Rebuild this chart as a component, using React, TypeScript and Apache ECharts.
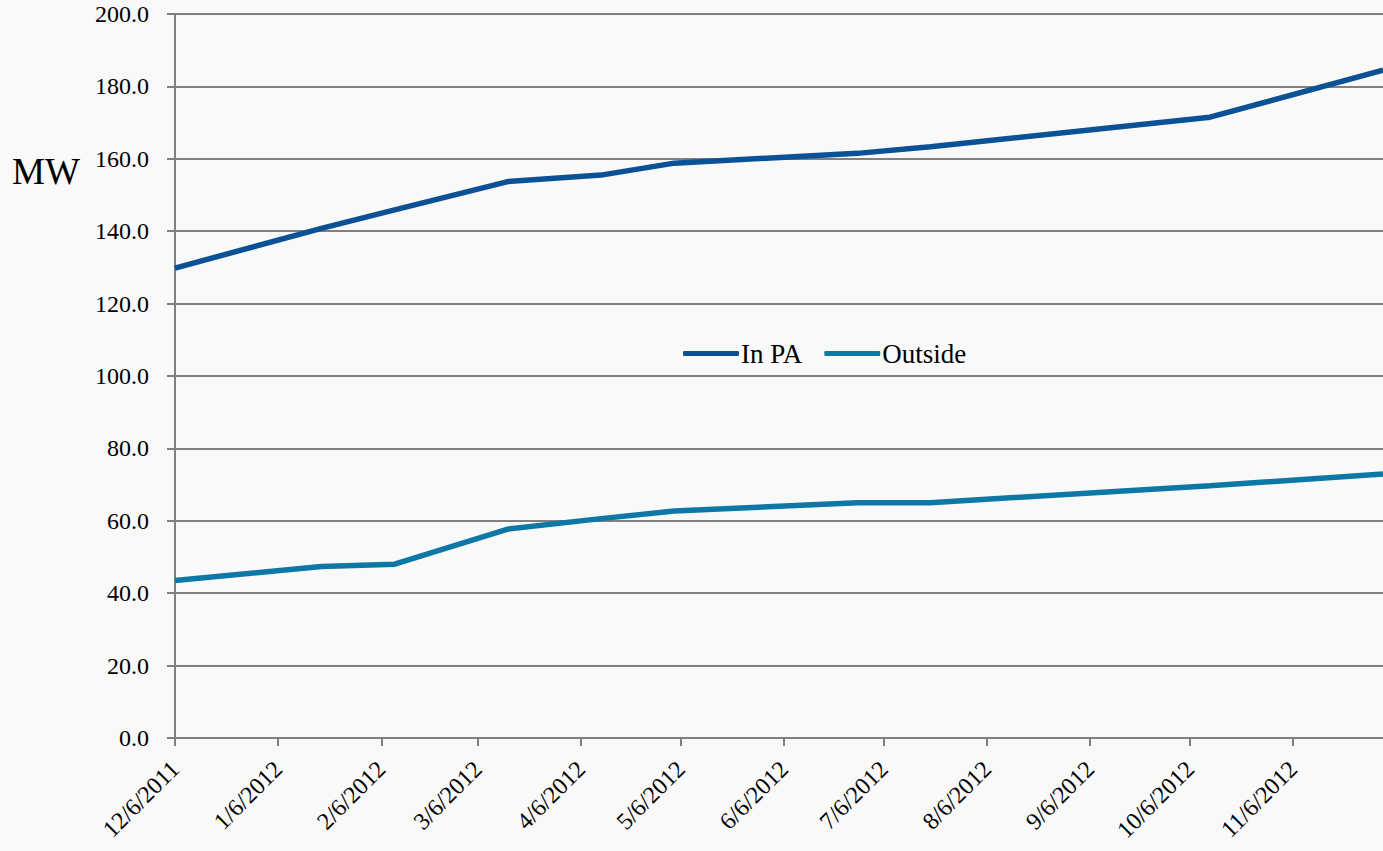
import React, { useEffect, useRef } from "react";
import * as echarts from "echarts";

const dates = ["2011-12-06", "2012-01-19", "2012-02-10", "2012-03-15", "2012-04-12", "2012-05-04", "2012-06-28", "2012-07-20", "2012-10-12", "2012-12-03"];
const inPA = [129.8, 140.8, 145.9, 153.7, 155.5, 158.8, 161.5, 163.3, 171.5, 184.5];
const outside = [43.5, 47.4, 48.0, 57.7, 60.6, 62.7, 65.0, 65.0, 69.7, 72.9];
const tickDates = ["2011-12-06", "2012-01-06", "2012-02-06", "2012-03-06", "2012-04-06", "2012-05-06", "2012-06-06", "2012-07-06", "2012-08-06", "2012-09-06", "2012-10-06", "2012-11-06"];

const toTs = (s: string) => {
  const [y, m, d] = s.split("-").map(Number);
  return new Date(y, m - 1, d).getTime();
};

export default function App() {
  const ref = useRef<HTMLDivElement>(null);
  useEffect(() => {
    if (!ref.current) return;
    const chart = echarts.init(ref.current, null, { renderer: "svg" });
    const ticks = tickDates.map(toTs);
    chart.setOption({
      animation: false,
      backgroundColor: "#f9f9f9",
      title: {
        text: "MW",
        left: 7,
        top: 148,
        textStyle: { fontFamily: "Liberation Serif", fontSize: 37, fontWeight: "normal", color: "#000" },
      },
      legend: {
        left: 678,
        top: 335,
        icon: "roundRect",
        itemWidth: 56,
        itemHeight: 5,
        itemGap: 22,
        textStyle: { fontFamily: "Liberation Serif", fontSize: 27, color: "#000", padding: [0, 0, 0, -3] },
        data: ["In PA", "Outside"],
      },
      grid: { left: 175, right: 0, top: 14, bottom: 113 },
      xAxis: {
        type: "value",
        min: toTs(dates[0]),
        max: toTs(dates[dates.length - 1]),
        axisLine: { show: true, lineStyle: { color: "#7f7f7f", width: 2 } },
        axisTick: { show: true, length: 8, customValues: ticks, lineStyle: { color: "#7f7f7f", width: 2 } },
        axisLabel: {
          customValues: ticks,
          rotate: 45,
          margin: 27,
          fontFamily: "Liberation Serif",
          fontSize: 24,
          color: "#000",
          formatter: (v: number) => {
            const d = new Date(v);
            return `${d.getMonth() + 1}/${d.getDate()}/${d.getFullYear()}`;
          },
        },
        splitLine: { show: false },
      },
      yAxis: {
        type: "value",
        min: 0,
        max: 200,
        interval: 20,
        axisLine: { show: true, lineStyle: { color: "#7f7f7f", width: 2 } },
        axisTick: { show: true, length: 8, lineStyle: { color: "#7f7f7f", width: 2 } },
        axisLabel: {
          margin: 26,
          fontFamily: "Liberation Serif",
          fontSize: 24,
          color: "#000",
          formatter: (v: number) => v.toFixed(1),
        },
        splitLine: { show: true, lineStyle: { color: "#808080", width: 2 } },
      },
      series: [
        {
          name: "In PA",
          type: "line",
          symbol: "none",
          lineStyle: { color: "#0b5195", width: 5.5 },
          itemStyle: { color: "#0b5195" },
          data: dates.map((d, i) => [toTs(d), inPA[i]]),
        },
        {
          name: "Outside",
          type: "line",
          symbol: "none",
          lineStyle: { color: "#0d77a6", width: 5.5 },
          itemStyle: { color: "#0d77a6" },
          data: dates.map((d, i) => [toTs(d), outside[i]]),
        },
      ],
    });
    return () => chart.dispose();
  }, []);
  return <div ref={ref} style={{ position: "fixed", left: 0, top: 0, width: 1383, height: 851 }} />;
}
